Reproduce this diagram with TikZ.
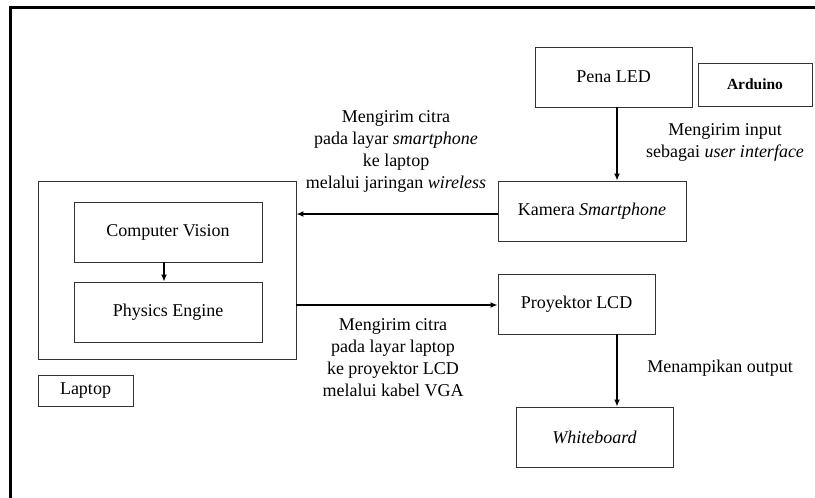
\documentclass[tikz,border=0pt]{standalone}
\usepackage{fontspec}
\setmainfont{Liberation Serif}
\usetikzlibrary{arrows.meta,calc}
\tikzset{
  box/.style={draw=black!80, line width=0.9pt, minimum width=#1, inner sep=0pt, align=center},
  arr/.style={draw=black, line width=1.6pt, -{Latex[length=7pt,width=6pt]}},
  lbl/.style={align=center, inner sep=0pt},
}
\begin{document}
\begin{tikzpicture}[x=1pt,y=-1pt,font=\fontsize{18}{22}\selectfont]
\clip (0,0) rectangle (815,498);
\fill[white] (0,0) rectangle (815,498);
\draw[line width=3pt] (10,7) rectangle (840,520);
% nodes
\node[box=157pt, minimum height=60pt] (pena) at (613.5,77) {Pena LED};
\node[box=114pt, minimum height=43pt, font=\fontsize{15.5}{18}\selectfont\bfseries] (arduino) at (755,84.5) {Arduino};
\node[box=188pt, minimum height=60pt] (kamera) at (592,211) {Kamera \textit{Smartphone}};
\node[box=258pt, minimum height=178pt] (lapbox) at (167,270) {};
\node[box=188pt, minimum height=60pt] (cv) at (168,232) {Computer Vision};
\node[box=188pt, minimum height=60pt] (pe) at (168,312) {Physics Engine};
\node[box=157pt, minimum height=60pt] (proy) at (576.5,304) {Proyektor LCD};
\node[box=157pt, minimum height=60pt] (wb) at (594.5,437) {\textit{Whiteboard}};
\node[box=95pt, minimum height=31pt] (laptop) at (85.5,390.5) {Laptop};
% labels
\node[lbl] (t1) at (396,151) {Mengirim citra\\pada layar \textit{smartphone}\\ke laptop\\melalui jaringan \textit{wireless}};
\node[lbl] (t2) at (725,142) {Mengirim input\\sebagai \textit{user interface}};
\node[lbl] (t3) at (393,357.5) {Mengirim citra\\pada layar laptop\\ke proyektor LCD\\melalui kabel VGA};
\node[lbl] (t4) at (720,368) {Menampikan output};
% arrows
\draw[arr] ([xshift=3.5pt]pena.south) -- ([xshift=3.5pt]pena.south |- kamera.north);
\draw[arr] ([yshift=-3pt]kamera.west) -- ([yshift=-3pt]kamera.west -| lapbox.east);
\draw[arr] ([yshift=-1pt]proy.west -| lapbox.east) -- ([yshift=-1pt]proy.west);
\draw[arr, line width=1.3pt] ([xshift=-4pt]cv.south) -- ([xshift=-4pt]pe.north);
\draw[arr] ([xshift=40.5pt]proy.south) -- ([xshift=40.5pt]proy.south |- wb.north);
\end{tikzpicture}
\end{document}
